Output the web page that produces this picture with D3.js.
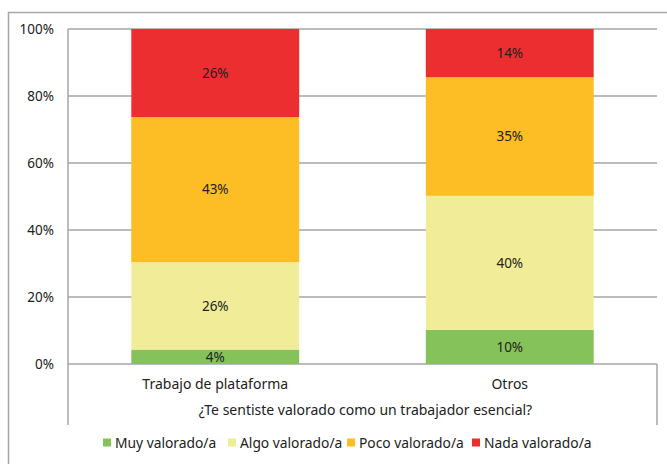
<!DOCTYPE html>
<html>
<head>
<meta charset="utf-8">
<script src="https://cdn.jsdelivr.net/npm/d3@7"></script>
<style>
body { margin: 0; background: #fff; }
text { font-family: "Noto Sans", sans-serif; fill: #222; }
</style>
</head>
<body>
<div id="chart"></div>
<script>
// data (percent)
var categories = ["Trabajo de plataforma", "Otros"];
var series = ["Muy valorado/a", "Algo valorado/a", "Poco valorado/a", "Nada valorado/a"];
var muy = [4.3, 10.2];
var algo = [26.1, 40.0];
var poco = [43.3, 35.4];
var nada = [26.3, 14.4];
var labels = [["4%", "26%", "43%", "26%"], ["10%", "40%", "35%", "14%"]];
var yTicks = [0, 20, 40, 60, 80, 100];
var colors = ["#85c35a", "#f1ec98", "#fdbd24", "#ed2e31"];
var axisTitle = "¿Te sentiste valorado como un trabajador esencial?";

var w = 667, h = 464;
var svg = d3.select('#chart').append("svg")
  .attr("width", w).attr("height", h);

// outer frame
svg.append("rect")
  .attr("x", 8.5).attr("y", 12.5)
  .attr("width", 680).attr("height", 480)
  .attr("fill", "none").attr("stroke", "#a6a6a6").attr("stroke-width", 1.5);

// plot box (don't call it "top", that's window.top)
var pLeft = 68, pRight = 657, pTop = 29, pBottom = 364;

var x = d3.scaleBand().domain(categories).range([pLeft, pRight]).paddingInner(0.43).paddingOuter(0.215);
var y = d3.scaleLinear().domain([0, 100]).range([pBottom, pTop]);

// gridlines
svg.append("g").selectAll("line").data(yTicks).enter().append("line")
  .attr("x1", pLeft).attr("x2", pRight)
  .attr("y1", function(d){ return y(d); }).attr("y2", function(d){ return y(d); })
  .attr("stroke", "#a6a6a6").attr("stroke-width", 1.5);

// y labels
svg.append("g").selectAll("text").data(yTicks).enter().append("text")
  .attr("x", 54).attr("y", function(d){ return y(d); })
  .attr("dy", "0.35em").attr("text-anchor", "end")
  .attr("font-size", 13.5)
  .text(function(d){ return d + "%"; });

// stack
var rows = categories.map(function(c, i){
  return { cat: c, "Muy valorado/a": muy[i], "Algo valorado/a": algo[i], "Poco valorado/a": poco[i], "Nada valorado/a": nada[i] };
});
var stacked = d3.stack().keys(series)(rows);

stacked.forEach(function(layer, si){
  var g = svg.append("g");
  g.selectAll("rect").data(layer).enter().append("rect")
    .attr("x", function(d){ return x(d.data.cat); })
    .attr("width", x.bandwidth())
    .attr("y", function(d){ return y(d[1]); })
    .attr("height", function(d){ return y(d[0]) - y(d[1]); })
    .attr("fill", colors[si]);
  g.selectAll("text").data(layer).enter().append("text")
    .attr("x", function(d){ return x(d.data.cat) + x.bandwidth() / 2; })
    .attr("y", function(d){ return y((d[0] + d[1]) / 2); })
    .attr("dy", "0.35em").attr("text-anchor", "middle")
    .attr("font-size", 13.5)
    .text(function(d, i){ return labels[i][si]; });
});

// axis lines
svg.append("line").attr("x1", pLeft).attr("x2", pLeft).attr("y1", pTop).attr("y2", 425)
  .attr("stroke", "#a6a6a6").attr("stroke-width", 1.5);
svg.append("line").attr("x1", pRight).attr("x2", pRight).attr("y1", pBottom).attr("y2", 425)
  .attr("stroke", "#a6a6a6").attr("stroke-width", 1.5);

// category labels
svg.append("g").selectAll("text").data(categories).enter().append("text")
  .attr("x", function(d){ return x(d) + x.bandwidth() / 2; })
  .attr("y", 384).attr("dy", "0.35em").attr("text-anchor", "middle")
  .attr("font-size", 14)
  .text(function(d){ return d; });

svg.append("text")
  .attr("x", (pLeft + pRight) / 2 + 3).attr("y", 410).attr("dy", "0.35em")
  .attr("text-anchor", "middle").attr("font-size", 14)
  .text(axisTitle);

// legend
var legendX = [103, 228, 347, 472];
var lg = svg.append("g").selectAll("g").data(series).enter().append("g")
  .attr("transform", function(d, i){ return "translate(" + legendX[i] + ",443)"; });
lg.append("rect").attr("x", 0).attr("y", -4.5).attr("width", 8).attr("height", 8)
  .attr("fill", function(d, i){ return colors[i]; });
lg.append("text").attr("x", 12).attr("dy", "0.35em").attr("font-size", 13.8)
  .text(function(d){ return d; });
</script>
</body>
</html>
